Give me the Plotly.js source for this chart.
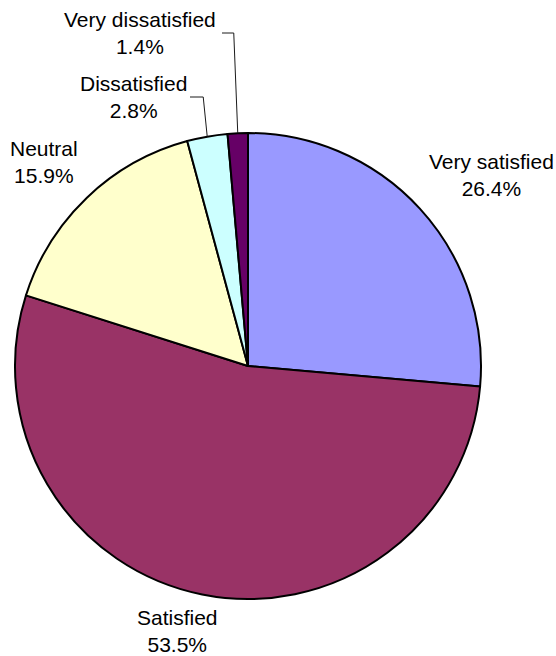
<!DOCTYPE html>
<html>
<head>
<meta charset="utf-8">
<script src="https://cdn.plot.ly/plotly-3.0.1.min.js"></script>
<style>
  html, body { margin: 0; padding: 0; background: #fff; }
  #chart { width: 556px; height: 656px; }
</style>
</head>
<body>
<div id="chart"></div>
<script>
// Survey answers, clockwise from 12 o'clock
const categories = ['Very satisfied', 'Satisfied', 'Neutral', 'Dissatisfied', 'Very dissatisfied'];
const shares = [26.4, 53.5, 15.9, 2.8, 1.4];
const sliceColors = ['#9999FF', '#993366', '#FFFFCC', '#CCFFFF', '#660066'];

// Figure geometry (pixels)
const W = 556, H = 656;
const CX = 248, CY = 366, R = 233;

// Where each label block is centred, and whether it gets a leader line
const labelPlacement = [
  { x: 491, y: 175, leader: false },
  { x: 177, y: 631, leader: false },
  { x: 44,  y: 162, leader: false },
  { x: 133, y: 97,  leader: true, rightEdge: 190 },
  { x: 140, y: 33,  leader: true, rightEdge: 222 }
];

const px = x => x / W;
const py = y => 1 - y / H;

const total = shares.reduce((a, b) => a + b, 0);

const trace = {
  type: 'pie',
  labels: categories,
  values: shares,
  sort: false,
  direction: 'clockwise',
  rotation: 0,
  textinfo: 'none',
  hoverinfo: 'label+percent',
  marker: { colors: sliceColors, line: { color: '#000000', width: 2 } },
  domain: { x: [px(CX - R), px(CX + R)], y: [py(CY + R), py(CY - R)] }
};

const annotations = [];
const shapes = [];
let cum = 0;
categories.forEach((cat, i) => {
  const frac = shares[i] / total;
  const mid = (cum + frac / 2) * 2 * Math.PI; // clockwise from top
  cum += frac;
  const pos = labelPlacement[i];
  annotations.push({
    xref: 'paper', yref: 'paper',
    x: px(pos.x), y: py(pos.y),
    xanchor: 'center', yanchor: 'middle',
    showarrow: false,
    align: 'center',
    text: cat + '<br>' + (shares[i] / total * 100).toFixed(1) + '%',
    font: { family: 'Liberation Sans, Arial, sans-serif', size: 21, color: '#000' }
  });
  if (pos.leader) {
    const ex = CX + R * Math.sin(mid);
    const ey = CY - R * Math.cos(mid);
    const elbowX = ex - 4;
    shapes.push({
      type: 'path', xref: 'paper', yref: 'paper',
      path: 'M ' + px(pos.rightEdge) + ' ' + py(pos.y) +
            ' L ' + px(elbowX) + ' ' + py(pos.y) +
            ' L ' + px(ex) + ' ' + py(ey),
      line: { color: '#1a1a1a', width: 1 }
    });
  }
});

const layout = {
  width: W, height: H,
  margin: { l: 0, r: 0, t: 0, b: 0 },
  paper_bgcolor: '#ffffff',
  showlegend: false,
  annotations: annotations,
  shapes: shapes
};

Plotly.newPlot('chart', [trace], layout, { displayModeBar: false, staticPlot: true });
</script>
</body>
</html>
